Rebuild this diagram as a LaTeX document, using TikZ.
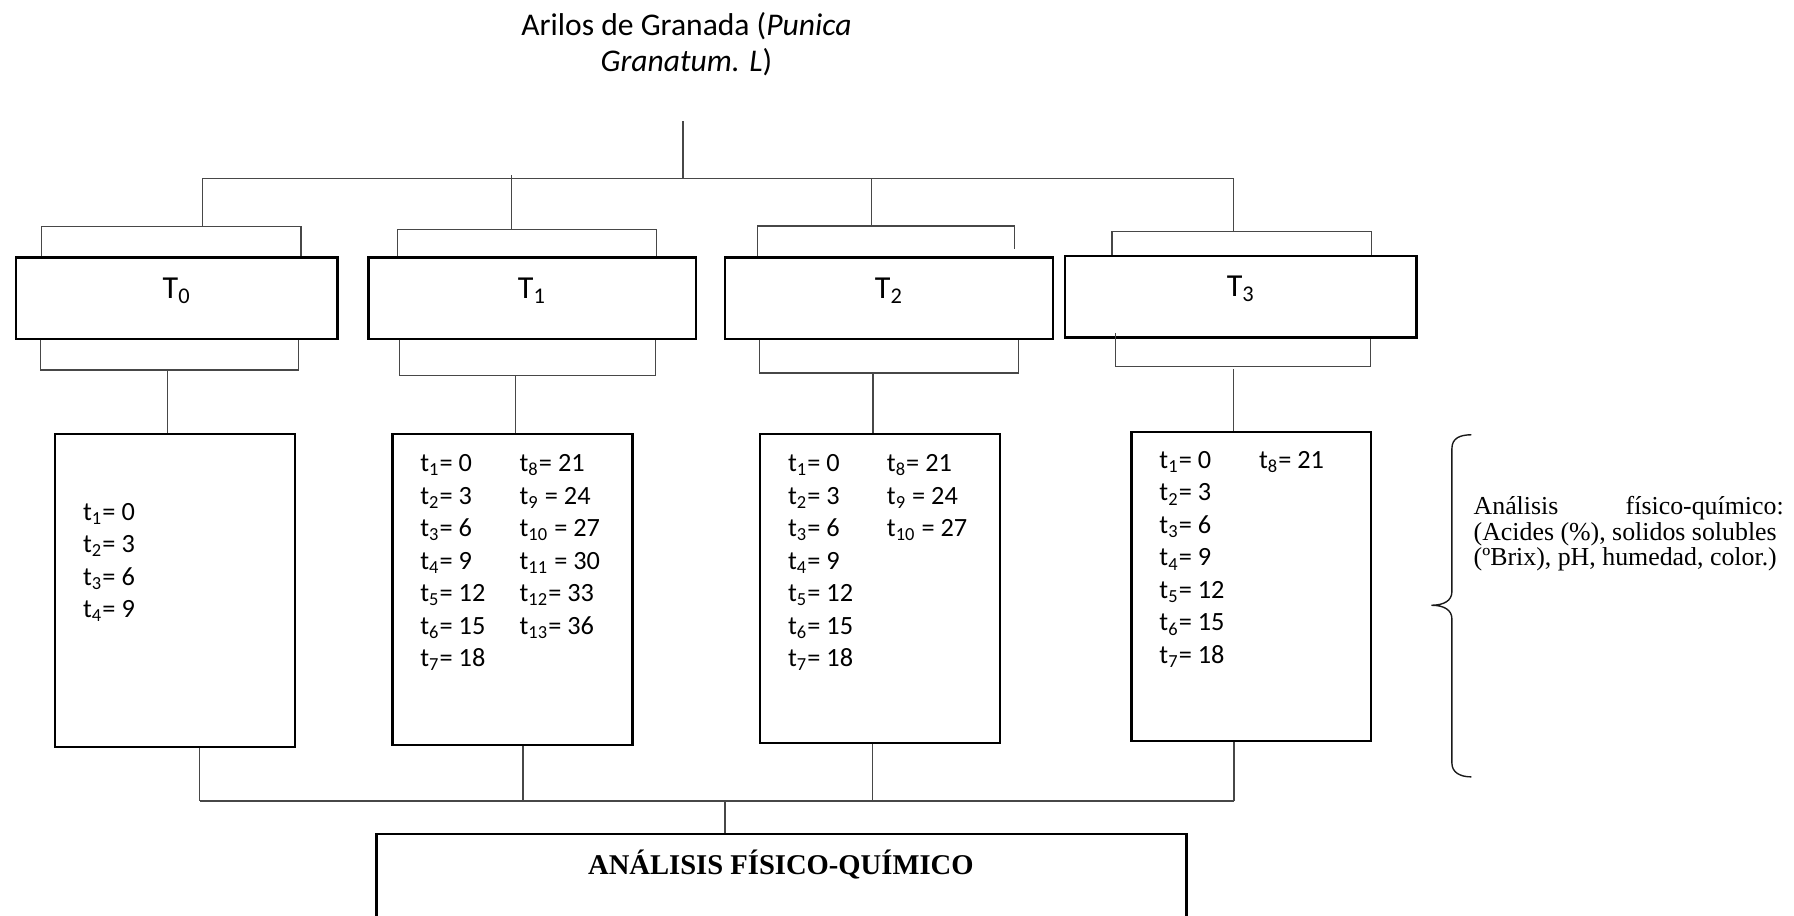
\documentclass[tikz,border=0pt]{standalone}
\usepackage{fontspec}
\setmainfont{Liberation Serif}
\newfontfamily\calfont{Carlito}
\begin{document}
\begin{tikzpicture}[x=0.5pt,y=-0.5pt,
  conn/.style={draw=black!72, line width=0.6pt},
  tbox/.style={draw=black, line width=0.95pt, inner sep=0pt},
  tlabel/.style={font=\calfont\fontsize{14}{16}\selectfont, anchor=base, inner sep=0pt},
  tlist/.style={font=\calfont\fontsize{11.5}{14.2}\selectfont, align=left, anchor=base west, inner sep=0pt},
]
\useasboundingbox (0,0) rectangle (1568,800);

% title (anchor = baseline of its last line)
\node[font=\calfont\fontsize{13.8}{16}\selectfont, align=center, anchor=base, inner sep=0pt] (title) at (600,62.7)
  {Arilos de Granada (\textit{Punica}\\\textit{Granatum. L})};

% treatment boxes
\node[tbox, minimum width=140.5pt, minimum height=35.5pt] (T0) at (154.5,260.5) {};
\node[tbox, minimum width=143pt, minimum height=35.5pt] (T1) at (465,260.5) {};
\node[tbox, minimum width=143pt, minimum height=35.5pt] (T2) at (777,260.5) {};
\node[tbox, minimum width=153.5pt, minimum height=35.5pt] (T3) at (1084.5,259.5) {};
\node[tlabel] (lT0) at (T0.center) {T\textsubscript{0}};
\node[tlabel] (lT1) at (T1.center) {T\textsubscript{1}};
\node[tlabel] (lT2) at (T2.center) {T\textsubscript{2}};
\node[tlabel] (lT3) at (T3.center) {T\textsubscript{3}};

% time boxes
\node[tbox, minimum width=105pt, minimum height=136.8pt] (B0) at (153,515.8) {};
\node[tbox, minimum width=104.9pt, minimum height=136pt] (B1) at (447.9,515.3) {};
\node[tbox, minimum width=104.9pt, minimum height=135pt] (B2) at (768.9,514.6) {};
\node[tbox, minimum width=104.8pt, minimum height=134.9pt] (B3) at (1093.8,512.5) {};

% lists (anchor = baseline of the last line)
\node[tlist] (l0) at (72.3,539.7) {t\textsubscript{1}= 0\\t\textsubscript{2}= 3\\t\textsubscript{3}= 6\\t\textsubscript{4}= 9};
\node[tlist] (l1a) at (367,582.7) {t\textsubscript{1}= 0\\t\textsubscript{2}= 3\\t\textsubscript{3}= 6\\t\textsubscript{4}= 9\\t\textsubscript{5}= 12\\t\textsubscript{6}= 15\\t\textsubscript{7}= 18};
\node[tlist] (l1b) at (453.8,554.3) {t\textsubscript{8}= 21\\t\textsubscript{9} = 24\\t\textsubscript{10} = 27\\t\textsubscript{11} = 30\\t\textsubscript{12}= 33\\t\textsubscript{13}= 36};
\node[tlist] (l2a) at (688.4,582.7) {t\textsubscript{1}= 0\\t\textsubscript{2}= 3\\t\textsubscript{3}= 6\\t\textsubscript{4}= 9\\t\textsubscript{5}= 12\\t\textsubscript{6}= 15\\t\textsubscript{7}= 18};
\node[tlist] (l2b) at (774.8,469.1) {t\textsubscript{8}= 21\\t\textsubscript{9} = 24\\t\textsubscript{10} = 27};
\node[tlist] (l3a) at (1013,579.8) {t\textsubscript{1}= 0\\t\textsubscript{2}= 3\\t\textsubscript{3}= 6\\t\textsubscript{4}= 9\\t\textsubscript{5}= 12\\t\textsubscript{6}= 15\\t\textsubscript{7}= 18};
\node[tlist] (l3b) at (1100,409.4) {t\textsubscript{8}= 21};

% final box
\node[tbox, minimum width=354pt, minimum height=60pt] (final) at (683,789) {};
\node[font=\bfseries\fontsize{12.5}{14}\selectfont, anchor=base, inner sep=0pt] (ftext) at (682.5,764) {ANÁLISIS FÍSICO-QUÍMICO};

% side description (anchor = baseline of the last line)
\node[font=\fontsize{11.3}{11}\selectfont, align=left, anchor=base west, inner sep=0pt] (desc) at (1287.6,494)
  {\makebox[135.5pt][s]{Análisis\hfill físico-químico:}\\(Acides (\%), solidos solubles\\(ºBrix), pH, humedad, color.)};
\draw[conn, draw=black!90] (1286,380) .. controls (1276,380) and (1269,383) .. (1269,392) -- (1269,517)
  .. controls (1269,525) and (1262,529) .. (1251,529)
  .. controls (1262,529) and (1269,533) .. (1269,541) -- (1269,667)
  .. controls (1269,675) and (1276,679) .. (1286,679);

% top tree
\coordinate (tstem) at (597,106);
\coordinate (tjoin) at (597,156);
\draw[conn] (tstem) -- (tjoin);
\draw[conn] (177,156) -- (1078,156);
\draw[conn] (177,156) -- (177,198);
\draw[conn] (36,0 |- T0.north) -- (36,198) -- (263,198) -- (263,0 |- T0.north);
\draw[conn] (447,153) -- (447,200.5);
\draw[conn] (347.5,0 |- T1.north) -- (347.5,200.5) -- (574,200.5) -- (574,0 |- T1.north);
\draw[conn] (761.5,156) -- (761.5,197.5);
\draw[conn] (662,0 |- T2.north) -- (662,197.5) -- (886.7,197.5) -- (886.7,218);
\draw[conn] (1078,156) -- (1078,202.5);
\draw[conn] (972,0 |- T3.north) -- (972,202.5) -- (1198.6,202.5) -- (1198.6,0 |- T3.north);

% lower brackets
\draw[conn] (35.5,0 |- T0.south) -- (35.5,323.4) -- (261,323.4) -- (261,0 |- T0.south);
\draw[conn] (146.5,323.4) -- (146.5,0 |- B0.north);
\draw[conn] (349,0 |- T1.south) -- (349,328) -- (573,328) -- (573,0 |- T1.south);
\draw[conn] (450.7,328) -- (450.7,0 |- B1.north);
\draw[conn] (664,0 |- T2.south) -- (664,326) -- (890,326) -- (890,0 |- T2.south);
\draw[conn] (763,326) -- (763,0 |- B2.north);
\draw[conn] (975,291) -- (975,320.5) -- (1198,320.5) -- (1198,0 |- T3.south);
\draw[conn] (1078,322.5) -- (1078,0 |- B3.north);

% bottom collector
\draw[conn] (174.6,0 |- B0.south) -- (174.6,700);
\draw[conn] (457,0 |- B1.south) -- (457,700);
\draw[conn] (762.6,0 |- B2.south) -- (762.6,700);
\draw[conn] (1078.4,0 |- B3.south) -- (1078.4,700);
\draw[conn] (174.6,700) -- (1078.4,700);
\draw[conn] (633.7,700) -- (633.7,0 |- final.north);
\end{tikzpicture}
\end{document}
